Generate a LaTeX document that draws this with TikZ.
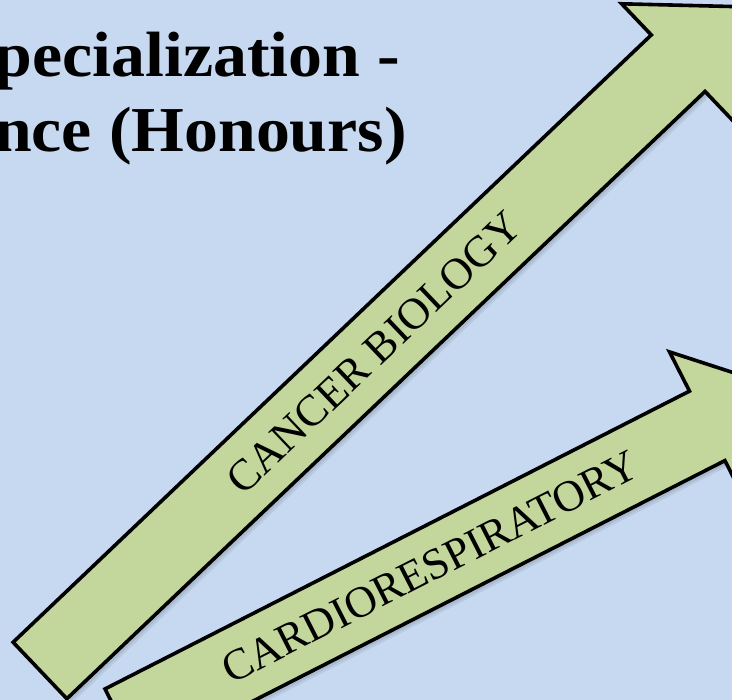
\documentclass[tikz,border=0pt]{standalone}
\usepackage{fontspec}
\setmainfont{Liberation Serif}
\definecolor{skyback}{RGB}{198,217,241}
\definecolor{leafgreen}{RGB}{195,214,155}
% outline of a block arrow lying along the x axis: shaft length #1, half head width #2
\newcommand\blockarrowpath[2]{(0,-39) -- (#1,-39) -- (#1,-#2) -- ({#1+#2},0) -- (#1,#2) -- (#1,39) -- (0,39) -- cycle}
\begin{document}
\begin{tikzpicture}[x=1pt,y=1pt,
  arrowbody/.style={fill=leafgreen, draw=black, line width=3.6pt, line join=miter, miter limit=10},
  shadefar/.style={fill=skyback!93!black, draw=skyback!93!black, line width=3.6pt, line join=miter},
  shadenear/.style={fill=skyback!86!black, draw=skyback!86!black, line width=3.6pt, line join=miter},
  arrowlabel/.style={inner sep=0pt, font=\fontsize{44}{44}\selectfont, transform shape},
  titleline/.style={inner sep=0pt, anchor=base east, xscale=1.06, font=\bfseries\fontsize{64}{70}\selectfont}]
\path[use as bounding box] (0,0) rectangle (732,700);
\clip (0,0) rectangle (732,700);
\fill[skyback] (0,0) rectangle (732,700);

% heading
\node[titleline] (headone) at (400,623) {pecialization -};
\node[titleline] (headtwo) at (407,548) {nce (Honours)};

% soft shadows under both arrows
\begin{scope}[shift={(3.5,-3.5)}]
  \begin{scope}[shift={(40,29.5)}, rotate=43.58]
    \path[shadefar] \blockarrowpath{881}{82};
  \end{scope}
  \begin{scope}[shift={(122.7,-23.7)}, rotate=27]
    \path[shadefar] \blockarrowpath{656}{83};
  \end{scope}
\end{scope}
\begin{scope}[shift={(1.8,-1.8)}]
  \begin{scope}[shift={(40,29.5)}, rotate=43.58]
    \path[shadenear] \blockarrowpath{881}{82};
  \end{scope}
  \begin{scope}[shift={(122.7,-23.7)}, rotate=27]
    \path[shadenear] \blockarrowpath{656}{83};
  \end{scope}
\end{scope}

% cancer biology arrow
\begin{scope}[shift={(40,29.5)}, rotate=43.58]
  \path[arrowbody] \blockarrowpath{881}{82};
  \node[arrowlabel] (cancer) at (461,0) {CANCER BIOLOGY};
\end{scope}

% cardiorespiratory arrow
\begin{scope}[shift={(122.7,-23.7)}, rotate=27]
  \path[arrowbody] \blockarrowpath{656}{83};
  \node[arrowlabel] (cardio) at (345,0) {CARDIORESPIRATORY};
\end{scope}
\end{tikzpicture}
\end{document}
